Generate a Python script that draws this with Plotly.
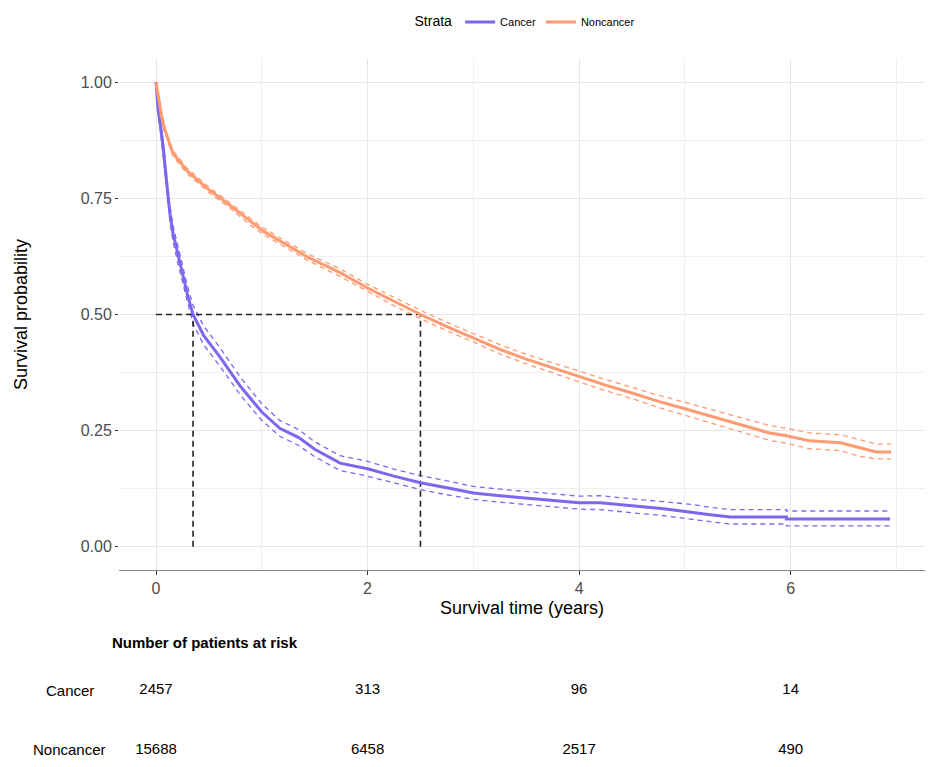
import plotly.graph_objects as go

# ---- Data ----
strata = ["Cancer", "Noncancer"]

cancer_t = [0.0, 0.02, 0.04, 0.07, 0.10, 0.13, 0.16, 0.21, 0.26, 0.30, 0.35, 0.45, 0.60, 0.80, 1.00, 1.17, 1.35,
            1.50, 1.74, 2.00, 2.25, 2.50, 2.75, 3.00, 3.25, 3.50, 3.75, 4.00, 4.20, 4.40, 4.60, 4.80,
            5.07, 5.24, 5.43, 5.96, 5.96, 6.94]
cancer_s = [1.00, 0.94, 0.91, 0.855, 0.785, 0.72, 0.675, 0.625, 0.58, 0.54, 0.50, 0.455, 0.41, 0.345, 0.29, 0.255, 0.235,
            0.21, 0.18, 0.168, 0.152, 0.138, 0.127, 0.116, 0.110, 0.105, 0.100, 0.095, 0.095, 0.090, 0.086, 0.082,
            0.075, 0.069, 0.064, 0.064, 0.060, 0.060]
cancer_up = [1.00, 0.950, 0.922, 0.870, 0.800, 0.737, 0.692, 0.643, 0.598, 0.559, 0.520, 0.475, 0.430, 0.364, 0.308, 0.272, 0.252,
             0.226, 0.196, 0.184, 0.167, 0.153, 0.142, 0.130, 0.124, 0.119, 0.114, 0.109, 0.110, 0.105, 0.101, 0.097,
             0.091, 0.085, 0.080, 0.080, 0.077, 0.077]
cancer_lo = [1.00, 0.930, 0.898, 0.840, 0.770, 0.703, 0.658, 0.607, 0.562, 0.521, 0.480, 0.435, 0.390, 0.326, 0.272, 0.238, 0.218,
             0.194, 0.164, 0.152, 0.137, 0.123, 0.112, 0.102, 0.096, 0.091, 0.086, 0.081, 0.080, 0.075, 0.071, 0.067,
             0.060, 0.054, 0.049, 0.049, 0.045, 0.045]

noncancer_t = [0.0, 0.02, 0.05, 0.08, 0.16, 0.29, 0.48, 0.67, 0.89, 1.01, 1.43, 1.74, 2.00, 2.25, 2.50, 2.75, 3.00,
               3.25, 3.50, 3.75, 4.00, 4.25, 4.50, 4.75, 5.00, 5.33, 5.80, 5.96, 6.18, 6.47, 6.65, 6.81, 6.95]
noncancer_s = [1.00, 0.97, 0.93, 0.90, 0.847, 0.81, 0.772, 0.74, 0.70, 0.68, 0.624, 0.59, 0.557, 0.528, 0.50, 0.474, 0.45,
               0.425, 0.404, 0.385, 0.366, 0.348, 0.331, 0.313, 0.297, 0.275, 0.245, 0.239, 0.228, 0.224, 0.213, 0.204, 0.204]
noncancer_up = [1.00, 0.975, 0.936, 0.906, 0.853, 0.816, 0.778, 0.746, 0.707, 0.687, 0.631, 0.598, 0.565, 0.537, 0.509, 0.483, 0.459,
                0.435, 0.414, 0.396, 0.377, 0.360, 0.343, 0.326, 0.311, 0.290, 0.261, 0.255, 0.245, 0.241, 0.231, 0.221, 0.221]
noncancer_lo = [1.00, 0.965, 0.924, 0.894, 0.841, 0.804, 0.766, 0.734, 0.693, 0.673, 0.617, 0.582, 0.549, 0.519, 0.491, 0.465, 0.441,
                0.415, 0.394, 0.374, 0.355, 0.336, 0.319, 0.300, 0.283, 0.260, 0.229, 0.223, 0.211, 0.207, 0.195, 0.189, 0.189]

median_times = [0.35, 2.50]

risk_times = [0, 2, 4, 6]
risk_cancer = [2457, 313, 96, 14]
risk_noncancer = [15688, 6458, 2517, 490]

x_ticks = [0, 2, 4, 6]
y_ticks = [0.0, 0.25, 0.5, 0.75, 1.0]
y_ticklabels = ["0.00", "0.25", "0.50", "0.75", "1.00"]

# ---- Styling ----
COL_C = "#7B68EE"
COL_N = "#FF9B73"
FONT = "Liberation Sans, Arial, sans-serif"
NARROW = "Liberation Sans Narrow, Liberation Sans, Arial, sans-serif"

fig = go.Figure()

# Confidence bands (dashed)
for t, up, lo, col, grp in [(cancer_t, cancer_up, cancer_lo, COL_C, "Cancer"),
                            (noncancer_t, noncancer_up, noncancer_lo, COL_N, "Noncancer")]:
    for yy in (up, lo):
        fig.add_trace(go.Scatter(x=t, y=yy, mode="lines", legendgroup=grp, showlegend=False,
                                 line=dict(color=col, width=1.3, dash="5px,4px"), hoverinfo="skip"))

# Median lines
fig.add_trace(go.Scatter(x=[0, median_times[1]], y=[0.5, 0.5], mode="lines", showlegend=False,
                         line=dict(color="#222222", width=1.6, dash="6px,4px"), hoverinfo="skip"))
for mt in median_times:
    fig.add_trace(go.Scatter(x=[mt, mt], y=[0, 0.5], mode="lines", showlegend=False,
                             line=dict(color="#222222", width=1.6, dash="6px,4px"), hoverinfo="skip"))

# Survival curves
fig.add_trace(go.Scatter(x=cancer_t, y=cancer_s, mode="lines", name="Cancer", legendgroup="Cancer",
                         line=dict(color=COL_C, width=3)))
fig.add_trace(go.Scatter(x=noncancer_t, y=noncancer_s, mode="lines", name="Noncancer", legendgroup="Noncancer",
                         line=dict(color=COL_N, width=3)))

# Risk table (text on a second subplot sharing the x scale)
ROW_C, ROW_N, ROW_T = 0.394, 0.052, 0.663
fig.add_trace(go.Scatter(x=risk_times, y=[ROW_C] * len(risk_times), mode="text",
                         text=[str(v) for v in risk_cancer], xaxis="x2", yaxis="y2", showlegend=False,
                         textfont=dict(family=NARROW, size=15, color="black"), hoverinfo="skip"))
fig.add_trace(go.Scatter(x=risk_times, y=[ROW_N] * len(risk_times), mode="text",
                         text=[str(v) for v in risk_noncancer], xaxis="x2", yaxis="y2", showlegend=False,
                         textfont=dict(family=NARROW, size=15, color="black"), hoverinfo="skip"))

fig.add_annotation(x=-0.011, xref="paper", y=ROW_T, yref="y2", text="<b>Number of patients at risk</b>",
                   showarrow=False, xanchor="left", font=dict(family=NARROW, size=15, color="black"))
fig.add_annotation(x=-0.0608, xref="paper", y=ROW_C, yref="y2", text=strata[0], borderpad=0,
                   showarrow=False, xanchor="center", font=dict(family=NARROW, size=15, color="black"))
fig.add_annotation(x=-0.0608, xref="paper", y=ROW_N, yref="y2", text=strata[1], borderpad=0,
                   showarrow=False, xanchor="center", font=dict(family=NARROW, size=15, color="black"))

fig.update_layout(
    width=917, height=751,
    margin=dict(l=111, r=0, t=51, b=0, autoexpand=False),
    paper_bgcolor="white", plot_bgcolor="white",
    font=dict(family=FONT, color="black"),
    showlegend=True,
    legend=dict(orientation="h", x=0.505, xanchor="center", y=1.053, yanchor="middle",
                title=dict(text="Strata", font=dict(size=14, color="black")),
                font=dict(size=11, color="black"), bgcolor="rgba(0,0,0,0)"),
    xaxis=dict(range=[-0.35, 7.27], tickvals=x_ticks, ticktext=[str(v) for v in x_ticks],
               showgrid=True, gridcolor="#E6E6E6", gridwidth=1,
               minor=dict(tickvals=[1, 3, 5, 7], showgrid=True, gridcolor="#F0F0F0", gridwidth=1),
               zeroline=False, showline=True, linecolor="#888888", linewidth=1,
               ticks="outside", ticklen=4, tickcolor="#333333",
               tickfont=dict(size=16, color="#4D4D4D"), automargin=False,
               title=dict(text="Survival time (years)", font=dict(size=18, color="black"), standoff=5),
               anchor="y"),
    yaxis=dict(range=[-0.05, 1.05], domain=[0.27, 1], tickvals=y_ticks, ticktext=y_ticklabels,
               showgrid=True, gridcolor="#E6E6E6", gridwidth=1,
               minor=dict(tickvals=[0.125, 0.375, 0.625, 0.875], showgrid=True, gridcolor="#F0F0F0", gridwidth=1),
               zeroline=False, showline=False,
               ticks="outside", ticklen=3, tickcolor="#333333",
               tickfont=dict(size=16, color="#4D4D4D"), automargin=False,
               title=dict(text="Survival probability", font=dict(size=18, color="black"), standoff=48)),
    xaxis2=dict(matches="x", anchor="y2", visible=False, showgrid=False, zeroline=False, automargin=False),
    yaxis2=dict(domain=[0, 0.25], range=[0, 1], visible=False, showgrid=False, zeroline=False, automargin=False),
)

fig.write_html("out.html")
